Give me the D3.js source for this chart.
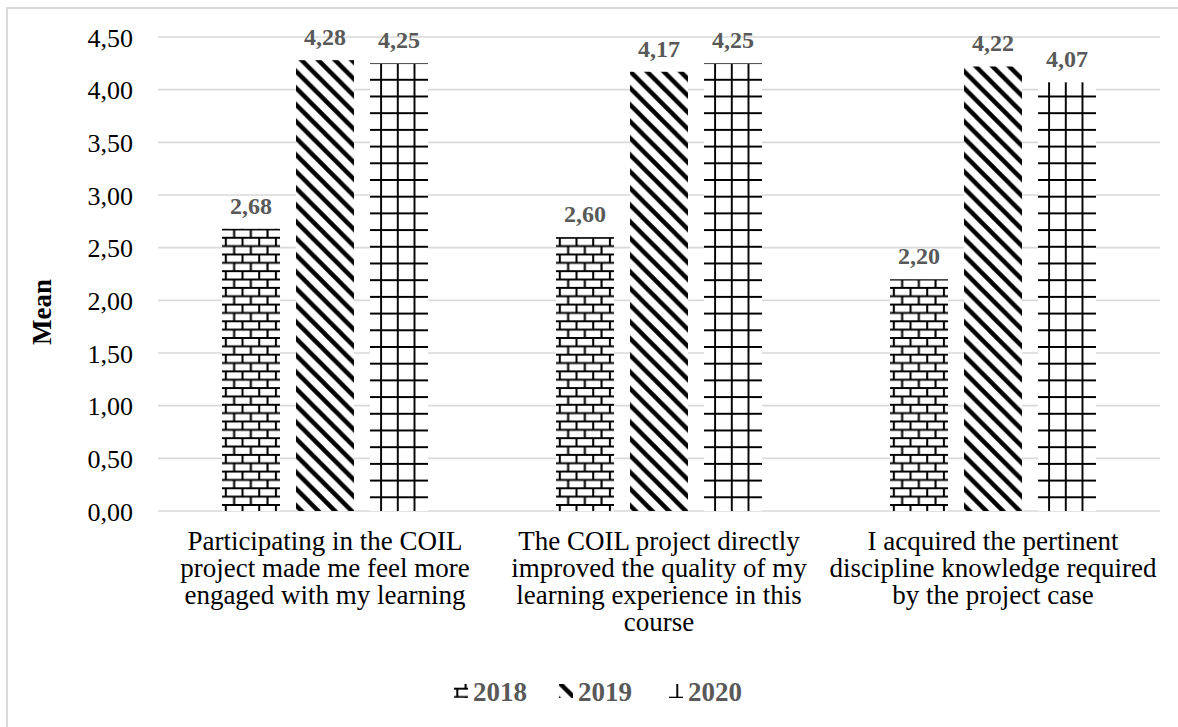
<!DOCTYPE html>
<html>
<head>
<meta charset="utf-8">
<script src="https://cdn.jsdelivr.net/npm/d3@7"></script>
<style>
  html, body { margin: 0; padding: 0; background: #fff; }
  svg { display: block; font-family: "Liberation Serif", "Times New Roman", serif; }
</style>
</head>
<body>
<svg id="chart" width="1178" height="727"></svg>
<script>
// Survey items (x categories)
const categories = [
  "Participating in the COIL project made me feel more engaged with my learning",
  "The COIL project directly improved the quality of my learning experience in this course",
  "I acquired the pertinent discipline knowledge required by the project case"
];
// Cohorts
const years = ["2018", "2019", "2020"];
// Mean score per item, one array per cohort
const values2018 = [2.68, 2.60, 2.20];
const values2019 = [4.28, 4.17, 4.22];
const values2020 = [4.25, 4.25, 4.07];
// Y axis ticks
const yTicks = [0, 0.5, 1, 1.5, 2, 2.5, 3, 3.5, 4, 4.5];

const seriesValues = { "2018": values2018, "2019": values2019, "2020": values2020 };
const patternId = { "2018": "pat-brick", "2019": "pat-diag", "2020": "pat-grid" };

const W = 1178, H = 727;
const plot = { left: 158, right: 1160, top: 37, bottom: 511 };

const svg = d3.select("#chart");
const fmt = v => d3.format(".2f")(v).replace(".", ",");

// ---- fill patterns ----
const defs = svg.append("defs");
const P = 16.7;

const brick = defs.append("pattern").attr("id", "pat-brick")
  .attr("patternUnits", "userSpaceOnUse").attr("width", P).attr("height", P)
  .attr("x", 0).attr("y", 3);
brick.append("rect").attr("width", P).attr("height", P).attr("fill", "#fff");
brick.append("path")
  .attr("d", `M0,1 H${P} M0,${P / 2 + 1} H${P} M1,0 V${P / 2 + 1} M${P / 2 + 1},${P / 2 + 1} V${P}`)
  .attr("stroke", "#000").attr("stroke-width", 2.1).attr("fill", "none");

const diag = defs.append("pattern").attr("id", "pat-diag")
  .attr("patternUnits", "userSpaceOnUse").attr("width", P).attr("height", P);
diag.append("rect").attr("width", P).attr("height", P).attr("fill", "#fff");
diag.append("path")
  .attr("d", `M${-P / 2},${-P / 2} L${1.5 * P},${1.5 * P} M${-P / 2},${P / 2} L${P / 2},${1.5 * P} M${P / 2},${-P / 2} L${1.5 * P},${P / 2}`)
  .attr("stroke", "#000").attr("stroke-width", 4.4).attr("fill", "none");

const grid = defs.append("pattern").attr("id", "pat-grid")
  .attr("patternUnits", "userSpaceOnUse").attr("width", P).attr("height", P)
  .attr("x", 5).attr("y", 12);
grid.append("rect").attr("width", P).attr("height", P).attr("fill", "#fff");
grid.append("path")
  .attr("d", `M0,1 H${P} M1,0 V${P}`)
  .attr("stroke", "#000").attr("stroke-width", 1.9).attr("fill", "none");

// ---- chart frame ----
svg.append("rect")
  .attr("x", 7).attr("y", 8).attr("width", W + 20).attr("height", H + 20)
  .attr("fill", "#fff").attr("stroke", "#d9d9d9").attr("stroke-width", 2);

// ---- scales ----
const x = d3.scaleBand().domain(categories).range([plot.left, plot.right]).padding(0);
const xs = d3.scaleBand().domain(years).range([0, x.bandwidth()])
  .paddingInner(0.216).paddingOuter(0.865);
const y = d3.scaleLinear().domain([0, 4.5]).range([plot.bottom, plot.top]);

// ---- gridlines ----
svg.append("g").selectAll("line").data(yTicks).join("line")
  .attr("x1", plot.left).attr("x2", plot.right)
  .attr("y1", d => y(d)).attr("y2", d => y(d))
  .attr("stroke", "#d9d9d9").attr("stroke-width", 1.6);

// ---- y axis labels ----
const yAxis = svg.append("g").attr("transform", `translate(${plot.left - 25},0)`)
  .call(d3.axisLeft(y).tickValues(yTicks).tickFormat(fmt).tickSize(0).tickPadding(0));
yAxis.select(".domain").remove();
yAxis.selectAll("text")
  .attr("font-family", "Liberation Serif, Times New Roman, serif")
  .attr("font-size", 26).attr("fill", "#000").attr("dy", "0.35em");

// ---- bars ----
const groups = svg.append("g").selectAll("g").data(categories).join("g")
  .attr("transform", d => `translate(${x(d)},0)`);

groups.selectAll("rect")
  .data((c, i) => years.map(yr => ({ yr, v: seriesValues[yr][i] })))
  .join("rect")
  .attr("x", d => xs(d.yr))
  .attr("width", xs.bandwidth())
  .attr("y", d => y(d.v))
  .attr("height", d => y(0) - y(d.v))
  .attr("fill", d => `url(#${patternId[d.yr]})`);

// ---- value labels ----
groups.selectAll("text.val")
  .data((c, i) => years.map(yr => ({ yr, v: seriesValues[yr][i] })))
  .join("text").attr("class", "val")
  .attr("x", d => xs(d.yr) + xs.bandwidth() / 2)
  .attr("y", d => y(d.v) - 15)
  .attr("text-anchor", "middle")
  .attr("font-size", 24).attr("font-weight", "bold").attr("fill", "#595959")
  .text(d => fmt(d.v));

// ---- category labels (wrapped) ----
function wrapLines(textSel, str, maxW) {
  const words = str.split(" ");
  const lines = [];
  let cur = "";
  const probe = textSel.append("tspan");
  words.forEach(w => {
    const test = cur ? cur + " " + w : w;
    probe.text(test);
    if (probe.node().getComputedTextLength() > maxW && cur) {
      lines.push(cur);
      cur = w;
    } else {
      cur = test;
    }
  });
  if (cur) lines.push(cur);
  probe.remove();
  return lines;
}

const catLabels = svg.append("g");
categories.forEach(c => {
  const t = catLabels.append("text")
    .attr("text-anchor", "middle")
    .attr("font-size", 27).attr("fill", "#000");
  const cx = x(c) + x.bandwidth() / 2;
  const lines = wrapLines(t, c, 333);
  lines.forEach((ln, i) => {
    t.append("tspan").attr("x", cx).attr("y", 550 + i * 27).text(ln);
  });
});

// ---- y axis title ----
svg.append("text")
  .attr("transform", "translate(51,312) rotate(-90)")
  .attr("text-anchor", "middle")
  .attr("font-size", 27).attr("font-weight", "bold").attr("fill", "#000")
  .text("Mean");

// ---- legend ----
const legendX = [473, 578, 688];
const legend = svg.append("g").selectAll("g").data(years).join("g")
  .attr("transform", (d, i) => `translate(${legendX[i]},0)`);
legend.append("rect")
  .attr("x", -19).attr("y", 684).attr("width", 14).attr("height", 14)
  .attr("fill", d => `url(#${patternId[d]})`);
legend.append("text")
  .attr("x", 0).attr("y", 701)
  .attr("font-size", 27).attr("font-weight", "bold").attr("fill", "#595959")
  .text(d => d);
</script>
</body>
</html>
